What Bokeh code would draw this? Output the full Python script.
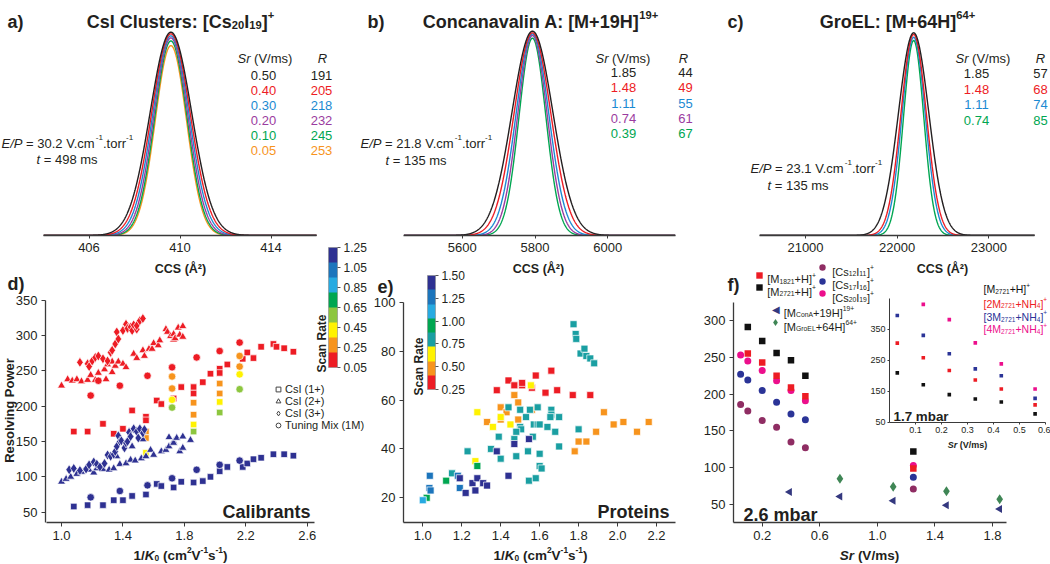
import math
import numpy as np
from bokeh.plotting import figure
from bokeh.models import (Range1d, FixedTicker, Label, ColorBar, LinearColorMapper, Legend,
                          LegendItem, PrintfTickFormatter, GridBox, ColumnDataSource)
from bokeh.embed import file_html
from bokeh.resources import INLINE

# ======================= DATA =======================
# a) CsI cluster [Cs20I19]+
a_center = 409.6
a_sr = [0.50, 0.40, 0.30, 0.20, 0.10, 0.05]
a_R = [191, 205, 218, 232, 245, 253]
a_height = [1.0, 0.992, 0.982, 0.972, 0.957, 0.934]
# b) Concanavalin A [M+19H]19+
b_center = 5793
b_sr = [1.85, 1.48, 1.11, 0.74, 0.39]
b_R = [44, 49, 55, 61, 67]
b_height = [1.0, 0.992, 0.987, 0.979, 0.966]
# c) GroEL [M+64H]64+
c_center = 22180
c_sr = [1.85, 1.48, 1.11, 0.74]
c_R = [57, 68, 74, 85]
c_height = [1.0, 0.992, 0.978, 0.962]

# d) calibrants: (x = 1/K0, y = resolving power), grouped by scan rate (V/ms)
d_sq = {
    0.12: ([1.08, 1.17, 1.27, 1.34, 1.40, 1.46, 1.55, 1.55, 1.62, 1.65, 1.73, 1.78, 1.86, 1.86, 1.92, 1.97, 2.03,
            2.03, 2.08, 2.18, 2.21, 2.25, 2.30, 2.38, 2.40, 2.45, 2.51],
           [164, 164, 175, 161, 168, 194, 185, 180, 208, 203, 211, 227, 227, 218, 234, 246, 253,
            247, 259, 267, 276, 268, 284, 288, 284, 282, 277]),
    0.27: ([1.55, 1.55, 1.86, 1.86, 2.03, 2.03], [164, 155, 205, 188, 232, 218]),
    0.42: ([1.55, 1.86, 2.03], [134, 174, 206]),
    0.57: ([1.86, 2.03], [164, 191]),
    1.20: ([1.08, 1.17, 1.27, 1.34, 1.40, 1.46, 1.55, 1.62, 1.65, 1.73, 1.78, 1.86, 1.92, 1.97, 2.03, 2.08, 2.18,
            2.21, 2.25, 2.30, 2.38, 2.45, 2.51],
           [58, 60, 60, 67, 67, 73, 75, 90, 87, 85, 93, 92, 94, 100, 108, 114, 114, 119, 125, 127, 132, 132, 130]),
}
d_tri = {
    0.12: ([1.00, 1.04, 1.07, 1.10, 1.13, 1.17, 1.19, 1.22, 1.24, 1.28, 1.29, 1.30, 1.33, 1.33, 1.35, 1.37, 1.40,
            1.42, 1.47, 1.49, 1.53, 1.54, 1.57, 1.59, 1.60, 1.63, 1.64, 1.68, 1.69, 1.71, 1.73, 1.73, 1.74, 1.76,
            1.77, 1.79, 1.79],
           [229, 238, 236, 238, 235, 237, 244, 237, 247, 252, 238, 259, 263, 248, 257, 263, 260,
            255, 274, 268, 279, 271, 281, 281, 289, 286, 293, 309, 305, 299, 302, 294, 296, 311,
            301, 298, 313]),
    1.20: ([1.00, 1.03, 1.06, 1.10, 1.13, 1.18, 1.21, 1.23, 1.27, 1.31, 1.34, 1.36, 1.38, 1.42, 1.45, 1.46, 1.48,
            1.52, 1.53, 1.55, 1.58, 1.60, 1.65, 1.68, 1.70, 1.70, 1.73, 1.73, 1.75, 1.77, 1.79, 1.79, 1.84],
           [93, 97, 100, 104, 107, 110, 106, 112, 111, 110, 112, 129, 118, 119, 124, 143, 123,
            126, 153, 129, 138, 131, 136, 138, 143, 156, 150, 148, 155, 136, 141, 157, 152]),
}
d_dia = {
    0.12: ([1.12, 1.17, 1.18, 1.20, 1.22, 1.24, 1.27, 1.30, 1.32, 1.33, 1.35, 1.36, 1.37, 1.40, 1.42, 1.43, 1.45,
            1.46, 1.47, 1.49, 1.49, 1.51, 1.53],
           [262, 260, 256, 264, 269, 271, 267, 264, 276, 279, 288, 305, 295, 307, 316, 310, 312,
            307, 315, 309, 314, 321, 324]),
    1.20: ([1.05, 1.08, 1.12, 1.16, 1.18, 1.21, 1.23, 1.25, 1.28, 1.30, 1.32, 1.34, 1.35, 1.36, 1.37, 1.38, 1.39,
            1.41, 1.42, 1.43, 1.44, 1.45, 1.47, 1.49, 1.50, 1.51, 1.53, 1.54],
           [110, 112, 109, 111, 117, 121, 118, 114, 119, 131, 129, 132, 136, 143, 158, 150, 151,
            141, 148, 150, 163, 157, 168, 164, 155, 168, 162, 167]),
}
d_circ = {
    0.12: ([1.19, 1.24, 1.38, 1.56, 1.72, 1.88, 2.03, 2.16], [215, 236, 229, 243, 255, 269, 278, 290]),
    0.27: ([1.72, 1.72, 2.16, 2.16], [242, 225, 271, 256]),
    0.42: ([1.72, 2.16], [209, 245]),
    0.57: ([1.72, 2.16], [198, 224]),
    1.20: ([1.19, 1.38, 1.56, 1.72, 1.88, 2.03, 2.16], [71, 80, 88, 98, 110, 117, 123]),
}
d_scan_ticks = [0.05, 0.25, 0.45, 0.65, 0.85, 1.05, 1.25]
d_palette = ["#ED1C24", "#F7941D", "#FFF200", "#8DC63F", "#00A651", "#27AAE1", "#1C75BC", "#2E3192"]

# e) proteins, grouped by scan rate (V/ms)
e_pts = {
    0.33: ([1.38, 1.44, 1.47, 1.51, 1.51, 1.56, 1.58, 1.63, 1.66, 1.69, 1.77, 1.86],
           [64, 68, 66, 66, 67, 65, 70, 63, 72, 64, 62, 62]),
    0.48: ([1.47, 1.49, 1.40, 1.43, 1.33, 1.40, 1.49, 1.56, 1.93, 1.98, 2.03, 2.10, 2.16, 1.89, 1.80, 1.84, 1.78],
           [62, 59, 57, 55, 51, 52, 52, 56, 55, 50, 51, 47, 51, 47, 43, 43, 39]),
    0.64: ([1.555, 1.28, 1.40, 1.36, 1.45, 1.27], [66, 55, 53, 49, 50, 35]),
    0.80: ([1.774, 1.785, 1.788, 1.81, 1.83, 1.84, 1.86, 1.88, 1.44, 1.50, 1.55, 1.59, 1.66, 1.66, 1.53, 1.655,
            1.70, 1.50, 1.505, 1.48, 1.57, 1.59, 1.60, 1.64, 1.68, 1.80, 1.39, 1.47, 1.565, 1.35, 1.40, 1.48,
            1.54, 1.60, 1.70, 1.23, 1.60, 1.61, 1.545, 1.58, 1.15],
           [91, 87, 85, 79, 81, 78, 77, 75, 57, 56, 56, 57, 56, 54, 53, 53, 53, 49, 48, 47, 50, 50, 50, 49, 47,
            48, 45, 44, 45, 40, 36, 37, 39, 38, 41, 39, 33, 32, 27, 28, 30]),
    0.95: ([1.02, 1.12, 1.28], [20, 27, 33]),
    1.11: ([1.00], [19]),
    1.27: ([1.036, 1.034, 1.04, 1.18, 1.19], [29, 24, 23, 29, 24]),
    1.42: ([1.38, 1.47, 1.545, 1.44, 1.19, 1.22, 1.255, 1.28, 1.27, 1.31, 1.33],
           [39, 42, 44, 29, 28, 22, 26, 28, 23, 26, 25]),
}
e_scan_ticks = [0.25, 0.50, 0.75, 1.00, 1.25, 1.50]
e_palette = ["#ED1C24", "#F7941D", "#FFF200", "#1A9FA2", "#00A651", "#27AAE1", "#1C75BC", "#2E3192"]

# f) resolving power vs scan rate, 2.6 mbar
f_sr_m = [0.10, 0.20, 0.30, 0.40, 0.50, 1.25]
f_m1821 = [255, 243, 225, 209, 197, 99]
f_m2721 = [291, 272, 256, 246, 225, 122]
f_sr_cs = [0.05, 0.10, 0.20, 0.30, 0.40, 0.50, 1.25]
f_cs12 = [186, 177, 164, 155, 135, 127, 71]
f_cs17 = [227, 219, 205, 189, 173, 165, 87]
f_cs20 = [253, 245, 232, 218, 205, 191, 103]
f_sr_cona = [0.39, 0.74, 1.11, 1.48, 1.85]
f_cona = [67, 61, 55, 49, 44]
f_sr_groel = [0.74, 1.11, 1.48, 1.85]
f_groel = [85, 74, 68, 57]
# inset, 1.7 mbar
in_sr = [0.03, 0.13, 0.23, 0.33, 0.43, 0.56]
in_m1 = [209, 171, 139, 125, 115, 77]
in_m2 = [305, 258, 217, 186, 157, 106]
in_m3 = [394, 330, 271, 222, 200, 127]
in_sr4 = [0.13, 0.23, 0.33, 0.43, 0.56]
in_m4 = [430, 381, 306, 238, 157]

# ======================= STYLE / HELPERS =======================
W, H = 1050, 564
FONT = "Liberation Sans"
INK = "#231F20"
RED, BLUE, PURPLE, GREEN, ORANGE = "#ED1C24", "#1B8AD2", "#9B3CA0", "#00A651", "#F7941D"
PINK, NAVY, MAROON, CONA, GROEL = "#EC0F8C", "#2B3497", "#8F2D63", "#34387F", "#3F8655"

REG_W, BOLD_W = {}, {}
def _set(t, chars, w):
    for ch in chars:
        t[ch] = w
for chars, w in [("ijl", 222), (" !,./:;I[]ft", 278), ("()-r", 333), ("ckszvxyJ", 500),
                 ("0123456789abdeghnopquL", 556), ("+=", 584), ("FTZ", 611), ("ABEKPSVXYÅ", 667),
                 ("CDHNRUw", 722), ("GOQ", 778), ("Mm", 833), ("W", 944)]:
    _set(REG_W, chars, w)
for chars, w in [(" !,./Iijl", 278), ("()-:;[]ft", 333), ("r", 389), ("z", 500),
                 ("0123456789aceksvxyJ", 556), ("+=", 584), ("bdghnopquFLTZ", 611), ("EPSVXY", 667),
                 ("ABCDHKNRUÅ", 722), ("GOQw", 778), ("M", 833), ("m", 889), ("W", 944)]:
    _set(BOLD_W, chars, w)

def text_width(s, size, bold):
    t = BOLD_W if bold else REG_W
    return sum(t.get(ch, 556) for ch in s) * size / 1000.0

def make_panel(xmap, ymap, frame, x_axis=True, y_axis=True):
    (v0, p0), (v1, p1) = xmap
    (w0, q0), (w1, q1) = ymap
    fl, ft, fr_, fb = frame
    L, T, R, B = round(fl), round(ft), round(fr_), round(fb)
    kx = (v1 - v0) / (p1 - p0)
    ky = (w1 - w0) / (q1 - q0)
    x0, x1 = v0 + (L - p0) * kx, v0 + (R - p0) * kx
    y0, y1 = w0 + (B - q0) * ky, w0 + (T - q0) * ky
    p = figure(width=W, height=H, x_range=Range1d(x0, x1), y_range=Range1d(y0, y1),
               min_border_left=L, min_border_right=W - R, min_border_top=T, min_border_bottom=H - B,
               output_backend="svg", toolbar_location=None, title=None, tools="",
               x_axis_location="below" if x_axis else None, y_axis_location="left" if y_axis else None)
    p.frame_align = False
    p.background_fill_color = None
    p.border_fill_color = None
    p.outline_line_color = None
    p.grid.visible = False
    return p, (L, T, R, B)

# overlay canvas for all free texts (frame = whole page, so nothing is clipped)
po, fo = make_panel(((0, 0), (1, 1)), ((0, H), (1, H - 1)), (0, 0, W, H), x_axis=False, y_axis=False)

def style_axis(ax, ticks, fmt, bounds, size="13px", standoff=4, tick_out=4):
    ax.ticker = FixedTicker(ticks=ticks)
    ax.formatter = PrintfTickFormatter(format=fmt)
    ax.bounds = bounds
    ax.major_label_text_font = FONT
    ax.major_label_text_font_size = size
    ax.major_label_text_color = INK
    ax.axis_line_color = "#3a3a3a"
    ax.axis_line_width = 1.3
    ax.major_tick_line_color = "#3a3a3a"
    ax.major_tick_out = tick_out
    ax.major_tick_in = 0
    ax.minor_tick_line_color = None
    ax.major_label_standoff = standoff

def lab(x, y, text, size=13, color=INK, style="normal", align="left", angle=0.0):
    L, T, R, B = fo
    po.add_layout(Label(x=x - L, y=B - y, x_units="screen", y_units="screen", text=text,
                        text_font=FONT, text_font_size=f"{size}px", text_font_style=style,
                        text_color=color, text_align=align, text_baseline="middle", angle=angle))

def rich(x, y, segs, size=13, color=INK, bold=False, align="left"):
    L, T, R, B = fo
    parts = []
    for seg in segs:
        txt, kind = seg if isinstance(seg, tuple) else (seg, "")
        fs = size * 0.62 if kind in ("sub", "sup") else size
        parts.append((txt, kind, fs, text_width(txt, fs, bold)))
    total = sum(q[3] for q in parts)
    cx = x
    if align == "center":
        cx -= total / 2
    elif align == "right":
        cx -= total
    base = y + 0.355 * size
    for txt, kind, fs, w in parts:
        stripped = txt.lstrip(" ")
        lead = text_width(txt[:len(txt) - len(stripped)], fs, bold)
        by = base + (0.2 * size if kind == "sub" else -0.4 * size if kind == "sup" else 0)
        style = (("bold " if bold else "") + ("italic" if kind == "i" else "")).strip() or "normal"
        if stripped.strip():
            po.add_layout(Label(x=cx + lead - L, y=B - by, x_units="screen", y_units="screen",
                                text=stripped, text_font=FONT, text_font_size=f"{fs:.1f}px",
                                text_font_style=style, text_color=color, text_align="left",
                                text_baseline="alphabetic"))
        cx += w

def glyph_legend(p, fr, renderer, cx, cy, gw, gh, label=" ", fsize="1px", standoff=0):
    L, T, R, B = fr
    p.add_layout(Legend(items=[LegendItem(label=label, renderers=[renderer])],
                        location=(cx - gw / 2 - L, B - cy - gh / 2),
                        glyph_width=gw, glyph_height=gh, label_width=0, label_height=gh,
                        label_standoff=standoff, label_text_font=FONT, label_text_font_size=fsize,
                        label_text_color=INK, padding=0, margin=0, spacing=0,
                        border_line_alpha=0, background_fill_alpha=0))

def add_colorbar(p, fr, mapper, ticks, left, top, bottom, width):
    L, T, R, B = fr
    p.add_layout(ColorBar(color_mapper=mapper, orientation="vertical", width=max(1, round(width)),
                          height=round(bottom - top), location=(left - L, B - bottom),
                          padding=0, margin=0, ticker=FixedTicker(ticks=ticks),
                          formatter=PrintfTickFormatter(format="%.2f"), major_label_text_font=FONT,
                          major_label_text_font_size="12px", major_label_text_color=INK, label_standoff=3,
                          major_tick_in=0, major_tick_out=3, major_tick_line_color="#555555",
                          minor_tick_line_color=None, bar_line_color="#8a8a8a", bar_line_width=0.6,
                          background_fill_alpha=0, border_line_color=None, title=None))

def peak_panel(p, center, Rs, heights, colors, lo, hi):
    xs = np.linspace(lo, hi, 900)
    for R, h, col in reversed(list(zip(Rs, heights, colors))):
        sig = center / R / 2.3548
        p.line(xs, h * np.exp(-0.5 * ((xs - center) / sig) ** 2), line_color=col, line_width=1.4)

def sr_table(hdr_x, r_x, col_sr, col_r, y0, dy, srs, Rs, colors):
    rich(hdr_x, 53, [("Sr", "i"), (" (V/ms)", "")], 13)
    rich(r_x, 53, [("R", "i")], 13, align="center")
    for i, (s, r, c) in enumerate(zip(srs, Rs, colors)):
        lab(col_sr, y0 + i * dy, f"{s:.2f}", 13, c, align="center")
        lab(col_r, y0 + i * dy, str(r), 13, c, align="center")

def scatter_groups(p, groups, marker, size, mapper, line_w=0.7):
    xs, ys, ss = [], [], []
    for s, (gx, gy) in groups.items():
        xs += gx; ys += gy; ss += [s] * len(gx)
    src = ColumnDataSource(dict(x=xs, y=ys, sr=ss))
    return p.scatter("x", "y", source=src, marker=marker, size=size,
                     fill_color={"field": "sr", "transform": mapper}, line_color="white", line_width=line_w)

K0_TITLE = ["1/", ("K", "i"), ("0", "sub"), " (cm", ("2", "sup"), "V", ("-1", "sup"), "s", ("-1", "sup"), ")"]
BOTTOM_Y = 550

# ======================= PANEL a =======================
pa, fa = make_panel(((404, 43), (416, 316)), ((0, 235), (1, 31.7)), (43, 5, 345, 235), y_axis=False)
style_axis(pa.xaxis[0], [406, 410, 414], "%d", (404, 416), tick_out=3)
A_COLORS = [INK, RED, BLUE, PURPLE, GREEN, ORANGE]
peak_panel(pa, a_center, a_R, a_height, A_COLORS, 404, 416)
rich(7, 15, ["a)"], 18, bold=True)
rich(180, 15, ["CsI Clusters: [Cs", ("20", "sub"), "I", ("19", "sub"), "]", ("+", "sup")], 18, bold=True, align="center")
sr_table(237, 322, 263, 321, 75, 14.9, a_sr, a_R, A_COLORS)
rich(1, 138, [("E/P", "i"), " = 30.2 V.cm", ("-1", "sup"), ".torr", ("-1", "sup")], 13)
rich(36, 154, [("t", "i"), " = 498 ms"], 13)
lab(180, 268, "CCS (Å²)", 12.5, style="bold", align="center")

# ======================= PANEL b =======================
pb, fb_ = make_panel(((5600, 461.7), (6000, 607.3)), ((0, 235), (1, 30.7)), (403, 5, 700, 235), y_axis=False)
style_axis(pb.xaxis[0], [5600, 5800, 6000], "%d", (5440, 6185), tick_out=3)
B_COLORS = [INK, RED, BLUE, PURPLE, GREEN]
peak_panel(pb, b_center, b_R, b_height, B_COLORS, 5440, 6185)
rich(367, 15, ["b)"], 18, bold=True)
rich(540, 15, ["Concanavalin A: [M+19H]", ("19+", "sup")], 18, bold=True, align="center")
sr_table(595, 683, 623, 685, 72, 15.3, b_sr, b_R, B_COLORS)
rich(360, 138, [("E/P", "i"), " = 21.8 V.cm", ("-1", "sup"), ".torr", ("-1", "sup")], 13)
rich(385, 155, [("t", "i"), " = 135 ms"], 13)
lab(538, 268, "CCS (Å²)", 12.5, style="bold", align="center")

# ======================= PANEL c =======================
pc, fc = make_panel(((21000, 805), (23000, 988.3)), ((0, 235), (1, 32.3)), (759, 5, 1050, 235), y_axis=False)
style_axis(pc.xaxis[0], [21000, 22000, 23000], "%d", (20500, 23500), tick_out=3)
C_COLORS = [INK, RED, BLUE, GREEN]
peak_panel(pc, c_center, c_R, c_height, C_COLORS, 20500, 23500)
rich(727, 15, ["c)"], 18, bold=True)
rich(897, 15, ["GroEL: [M+64H]", ("64+", "sup")], 18, bold=True, align="center")
sr_table(955, 1040, 976, 1040, 73, 15.6, c_sr, c_R, C_COLORS)
rich(750, 163, [("E/P", "i"), " = 23.1 V.cm", ("-1", "sup"), ".torr", ("-1", "sup")], 13)
rich(767, 180, [("t", "i"), " = 135 ms"], 13)
lab(942, 268, "CCS (Å²)", 12.5, style="bold", align="center")

# ======================= PANEL d =======================
pd_, fd = make_panel(((1.0, 61), (2.6, 306.7)), ((50, 511.7), (300, 335)), (45, 240, 375, 521.7))
style_axis(pd_.xaxis[0], [1.0, 1.4, 1.8, 2.2, 2.6], "%.1f", (0.9, 2.65))
style_axis(pd_.yaxis[0], [50, 100, 150, 200, 250, 300, 350], "%d", (36, 350))
d_mapper = LinearColorMapper(palette=d_palette, low=0.05, high=1.25)
scatter_groups(pd_, d_sq, "square", 6.5, d_mapper)
scatter_groups(pd_, d_tri, "triangle", 8, d_mapper)
scatter_groups(pd_, d_dia, "diamond", 10, d_mapper)
scatter_groups(pd_, d_circ, "circle", 7.5, d_mapper)
add_colorbar(pd_, fd, d_mapper, d_scan_ticks, 328, 247, 367, 9)
lab(321, 343, "Scan Rate", 12, style="bold", align="center", angle=math.pi / 2)
NAN = float("nan")
for i, (mk, txt) in enumerate([("square", "CsI (1+)"), ("triangle", "CsI (2+)"),
                               ("diamond", "CsI (3+)"), ("circle", "Tuning Mix (1M)")]):
    dummy = pd_.scatter(x=[NAN], y=[NAN], marker=mk, size=6, fill_color=None, line_color="#444444", line_width=1)
    glyph_legend(pd_, fd, dummy, 278, 389 + 12 * i, 12, 14, label=txt, fsize="11px", standoff=1)
rich(7, 277, ["d)"], 18, bold=True)
lab(8.5, 410, "Resolving Power", 13, style="bold", align="center", angle=math.pi / 2)
rich(222, 505, ["Calibrants"], 18, bold=True)
rich(180, BOTTOM_Y, K0_TITLE, 13.5, bold=True, align="center")

# ======================= PANEL e =======================
pe, fe = make_panel(((1.0, 422.3), (2.2, 656)), ((20, 497.3), (100, 301.7)), (402.7, 265, 690, 521.7))
style_axis(pe.xaxis[0], [1.0, 1.2, 1.4, 1.6, 1.8, 2.0, 2.2], "%.1f", (0.9, 2.3))
style_axis(pe.yaxis[0], [20, 40, 60, 80, 100], "%d", (10, 100))
e_mapper = LinearColorMapper(palette=e_palette, low=0.25, high=1.50)
scatter_groups(pe, e_pts, "square", 7, e_mapper)
add_colorbar(pe, fe, e_mapper, e_scan_ticks, 427, 275, 389, 8.5)
lab(418.5, 366, "Scan Rate", 12, style="bold", align="center", angle=math.pi / 2)
rich(377, 280, ["e)"], 18, bold=True)
rich(597, 505, ["Proteins"], 18, bold=True)
rich(540, BOTTOM_Y, K0_TITLE, 13.5, bold=True, align="center")

# ======================= PANEL f =======================
pf, ff = make_panel(((0.2, 761.7), (1.8, 992)), ((50, 504), (300, 320)), (733.3, 255, 1012, 521.7))
style_axis(pf.xaxis[0], [0.2, 0.6, 1.0, 1.4, 1.8], "%.1f", (0.0, 1.9))
style_axis(pf.yaxis[0], [50, 100, 150, 200, 250, 300], "%d", (25, 325))
r_cs12 = pf.scatter(f_sr_cs, f_cs12, marker="circle", size=7, fill_color=MAROON, line_color=None)
r_cs17 = pf.scatter(f_sr_cs, f_cs17, marker="circle", size=7, fill_color=NAVY, line_color=None)
r_cs20 = pf.scatter(f_sr_cs, f_cs20, marker="circle", size=7, fill_color=PINK, line_color=None)
r_m1821 = pf.scatter(f_sr_m, f_m1821, marker="square", size=6.5, fill_color=RED, line_color=None)
r_m2721 = pf.scatter(f_sr_m, f_m2721, marker="square", size=6.5, fill_color="#111111", line_color=None)
r_cona = pf.scatter(f_sr_cona, f_cona, marker="triangle", angle=math.pi / 2, size=8, fill_color=CONA, line_color=None)
r_groel = pf.scatter(f_sr_groel, f_groel, marker="diamond", size=10, fill_color=GROEL, line_color=None)
glyph_legend(pf, ff, r_m1821, 759, 275, 16, 16)
glyph_legend(pf, ff, r_m2721, 759, 287.3, 16, 16)
glyph_legend(pf, ff, r_cs12, 822, 267.3, 16, 16)
glyph_legend(pf, ff, r_cs17, 822, 280.7, 16, 16)
glyph_legend(pf, ff, r_cs20, 822, 293.3, 16, 16)
glyph_legend(pf, ff, r_groel, 775, 322.3, 18, 18)
lab(775, 308.8, "◀", 10, color=CONA, align="center")
rich(766.7, 275, ["[M", ("1821", "sub"), "+H]", ("+", "sup")], 11)
rich(766.7, 287.3, ["[M", ("2721", "sub"), "+H]", ("+", "sup")], 11)
rich(831.7, 267.3, ["[Cs", ("12", "sub"), "I", ("11", "sub"), "]", ("+", "sup")], 11)
rich(831.7, 280.7, ["[Cs", ("17", "sub"), "I", ("16", "sub"), "]", ("+", "sup")], 11)
rich(831.7, 293.3, ["[Cs", ("20", "sub"), "I", ("19", "sub"), "]", ("+", "sup")], 11)
rich(783.3, 308.3, ["[M", ("ConA", "sub"), "+19H]", ("19+", "sup")], 11)
rich(783.3, 322.3, ["[M", ("GroEL", "sub"), "+64H]", ("64+", "sup")], 11)
rich(727, 278, ["f)"], 18, bold=True)
rich(743, 508, ["2.6 mbar"], 18, bold=True)
rich(869, BOTTOM_Y, [("Sr", "i"), " (V/ms)"], 13.5, bold=True, align="center")

# ======================= INSET (f) =======================
pi_, fi = make_panel(((0.0, 889), (0.6, 1045)), ((50, 421.7), (450, 297.7)), (889, 297.7, 1045, 421.7))
style_axis(pi_.xaxis[0], [0.1, 0.2, 0.3, 0.4, 0.5, 0.6], "%.1f", (0.0, 0.6), size="9px", standoff=2, tick_out=2)
style_axis(pi_.yaxis[0], [50, 150, 250, 350, 450], "%d", (50, 450), size="9px", standoff=2, tick_out=2)
for ax in (pi_.xaxis[0], pi_.yaxis[0]):
    ax.axis_line_width = 1.0
pi_.scatter(in_sr, in_m1, marker="square", size=3.6, fill_color="#111111", line_color=None)
pi_.scatter(in_sr, in_m2, marker="square", size=3.6, fill_color=RED, line_color=None)
pi_.scatter(in_sr, in_m3, marker="square", size=3.6, fill_color=NAVY, line_color=None)
pi_.scatter(in_sr4, in_m4, marker="square", size=3.6, fill_color=PINK, line_color=None)
rich(983, 285, ["[M", ("2721", "sub"), "+H]", ("+", "sup")], 10.5, color="#111111")
rich(983, 299.3, ["[2M", ("2721", "sub"), "+NH", ("4", "sub"), "]", ("+", "sup")], 10.5, color=RED)
rich(983, 312.7, ["[3M", ("2721", "sub"), "+NH", ("4", "sub"), "]", ("+", "sup")], 10.5, color=NAVY)
rich(983, 325, ["[4M", ("2721", "sub"), "+NH", ("4", "sub"), "]", ("+", "sup")], 10.5, color=PINK)
rich(893, 411.7, ["1.7 mbar"], 13.4, bold=True)
rich(967, 441.7, [("Sr", "i"), " (V/ms)"], 9, bold=True, align="center")

# ======================= LAYOUT =======================
figs = [pa, pb, pc, pd_, pe, pf, pi_, po]
root = GridBox(children=[(f, 0, 0) for f in figs])
open("out.html", "w").write(file_html(root, INLINE))
